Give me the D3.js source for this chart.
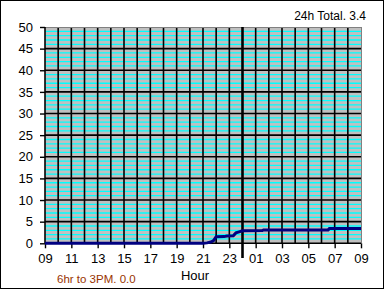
<!DOCTYPE html>
<html lang="en">
  <head>
    <meta charset="utf-8">
    <title>24h rain</title>
    <script src="https://d3js.org/d3.v7.min.js"></script>
    <style>
      body { margin: 0; background: #fff; }
      text { font-family: "Liberation Sans", Arial, sans-serif; }
    </style>
  </head>
  <body>
    <svg id="chart" style="display:block"></svg>
    <script type="text/javascript">
      // 1) data - hours counted from 09:00, cumulative rain
      let hours = [0, 12.0, 12.3, 12.6, 12.8, 13.0, 13.6, 13.8, 14.3, 14.5, 14.8, 15.0, 16.5, 16.6, 21.5, 21.6, 24];
      let rain  = [0, 0,    0.1,  0.3,  0.6,  1.5,  1.55, 1.7,  1.75, 2.4,  2.7,  2.9,  2.95, 3.1,  3.1,  3.4,  3.4];
      let xTickHours  = [0, 2, 4, 6, 8, 10, 12, 14, 16, 18, 20, 22, 24];
      let xTickLabels = ["09", "11", "13", "15", "17", "19", "21", "23", "01", "03", "05", "07", "09"];
      let yTicks = [0, 5, 10, 15, 20, 25, 30, 35, 40, 45, 50];
      let midnight = 15;
      let totalText = "24h Total. 3.4";
      let partText = "6hr to 3PM. 0.0";

      // 2) sizes
      let svgWidth = 385, svgHeight = 290;
      let plotLeft = 45, plotRight = 361, plotTop = 27, plotBottom = 243.3;

      let svg = d3.select("#chart")
                  .attr("width", svgWidth)
                  .attr("height", svgHeight);

      // outer frame
      svg.append("rect")
         .attr("x", 0.5).attr("y", 0.5)
         .attr("width", svgWidth - 2).attr("height", svgHeight - 2)
         .attr("fill", "#fff").attr("stroke", "#000");

      // 3) scales
      let x = d3.scaleLinear().domain([0, 24]).range([plotLeft, plotRight]);
      let y = d3.scaleLinear().domain([0, 50]).range([plotBottom, plotTop]);

      // plot background
      svg.append("rect")
         .attr("x", plotLeft).attr("y", plotTop)
         .attr("width", plotRight - plotLeft).attr("height", plotBottom - plotTop)
         .attr("fill", "#c0c0c0");

      // cyan minor lines, every unit
      let minor = d3.range(1, 50).filter(d => d % 5 != 0);
      svg.append("g").selectAll("line")
         .data(minor).enter().append("line")
         .attr("x1", plotLeft).attr("x2", plotRight)
         .attr("y1", d => y(d)).attr("y2", d => y(d))
         .attr("stroke", "#00ffff").attr("stroke-width", 1.3);

      // black vertical hour lines
      svg.append("g").selectAll("line")
         .data(d3.range(1, 24).filter(d => d != midnight)).enter().append("line")
         .attr("x1", d => x(d)).attr("x2", d => x(d))
         .attr("y1", plotTop).attr("y2", plotBottom)
         .attr("stroke", "#000").attr("stroke-width", 1.6);

      // black major horizontal lines
      svg.append("g").selectAll("line")
         .data(yTicks.filter(d => d > 0 && d < 50)).enter().append("line")
         .attr("x1", plotLeft).attr("x2", plotRight)
         .attr("y1", d => y(d)).attr("y2", d => y(d))
         .attr("stroke", "#000").attr("stroke-width", 1.6);

      // plot frame top/right
      svg.append("path")
         .attr("d", "M" + plotLeft + "," + plotTop + "H" + plotRight + "V" + plotBottom)
         .attr("fill", "none").attr("stroke", "#808080")
         .attr("shape-rendering", "crispEdges");

      // 4) axes
      let y_axis = d3.axisLeft(y).tickValues(yTicks).tickSize(5).tickPadding(7);
      let gy = svg.append("g")
         .attr("transform", "translate(" + plotLeft + ",0)")
         .call(y_axis);

      let x_axis = d3.axisBottom(x).tickValues(xTickHours).tickSize(5).tickPadding(5)
                     .tickFormat((d, i) => xTickLabels[i]);
      let gx = svg.append("g")
         .attr("transform", "translate(0," + plotBottom + ")")
         .call(x_axis);

      [gy, gx].forEach(function(g) {
        g.select(".domain").attr("stroke-width", 1.6);
        g.selectAll(".tick line").attr("stroke-width", 1.4);
        g.selectAll("text").attr("font-size", 13).attr("font-family", "Liberation Sans, Arial, sans-serif").attr("fill", "#000");
      });
      gy.select(".domain").attr("d", "M0," + plotTop + "V" + plotBottom);
      gx.select(".domain").attr("d", "M" + plotLeft + ",0H" + plotRight);

      // midnight marker
      svg.append("line")
         .attr("x1", x(midnight)).attr("x2", x(midnight))
         .attr("y1", plotTop).attr("y2", 258)
         .attr("stroke", "#000").attr("stroke-width", 2.6);

      // 5) rain line
      let line = d3.line()
                   .x((d, i) => x(hours[i]))
                   .y(d => y(d));
      svg.append("path")
         .attr("d", line(rain))
         .attr("fill", "none")
         .attr("stroke", "#000080")
         .attr("stroke-width", 3);

      // 6) labels
      svg.append("text")
         .attr("x", 195).attr("y", 280)
         .attr("text-anchor", "middle")
         .attr("font-size", 13)
         .text("Hour");

      svg.append("text")
         .attr("x", 57).attr("y", 283)
         .attr("font-size", 11.5)
         .attr("fill", "#993300")
         .text(partText);

      svg.append("text")
         .attr("x", 366).attr("y", 20)
         .attr("text-anchor", "end")
         .attr("font-size", 12)
         .text(totalText);
    </script>
  </body>
</html>
